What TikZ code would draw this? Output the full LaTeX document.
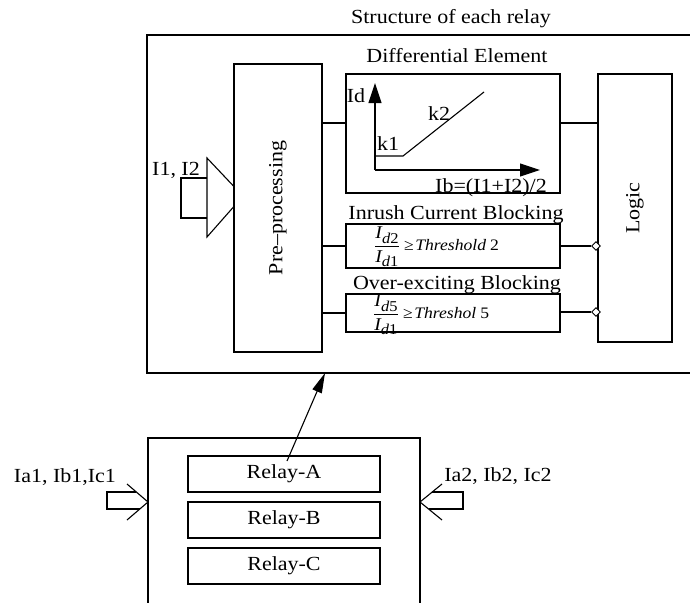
\documentclass[tikz,border=0pt]{standalone}
\usepackage{fontspec}
\setmainfont{Liberation Serif}[FakeStretch=1.1]
\usetikzlibrary{arrows.meta,shapes.geometric}

\newcommand{\subsz}[1]{\mbox{\fontsize{15}{15}\selectfont\itshape d\upshape#1}}
\newcommand{\ratio}[2]{{\fontsize{18}{20}\selectfont$\displaystyle\frac{\mbox{\itshape I}_{\subsz{#1}}}{\mbox{\itshape I}_{\subsz{#2}}}$}}
\newcommand{\crit}[2]{{\fontsize{16}{19}\selectfont ≥\hspace{1.5pt}\itshape #1\upshape\hspace{4pt}#2}}

\tikzset{
  ln/.style={line width=1.1pt, line join=miter},
  blk/.style={draw, ln, inner sep=0pt, fill=white},
  lbl/.style={inner sep=0pt, font=\fontsize{20}{24}\selectfont},
  eq/.style={inner sep=0pt, anchor=west},
  tip/.style={-{Triangle[length=20pt,width=13pt]}},
  port/.style={diamond, draw, line width=0.9pt, fill=white, inner sep=0pt,
    minimum width=9pt, minimum height=9pt},
}

\begin{document}
\begin{tikzpicture}[x=1pt, y=-1pt]
\clip (0,0) rectangle (690,602);
\fill[white] (0,0) rectangle (690,602);

% ---- per-relay structure ----
\node[lbl, anchor=base] (ttl) at (451,24) {Structure of each relay};
\draw[ln] (147,35) rectangle (720,373);
\coordinate (outbot) at (325,373);

\node[blk, minimum width=88pt, minimum height=288pt] (pre) at (278,208) {};
\node[lbl, rotate=90] at (pre.center) {Pre--processing};

\node[blk, minimum width=214pt, minimum height=119pt] (diff) at (453,133.5) {};
\node[lbl, anchor=base] (difft) at (457,63) {Differential Element};

\node[blk, minimum width=214pt, minimum height=44pt] (inr) at (453,246) {};
\node[lbl, anchor=base] (inrt) at (456,219) {Inrush Current Blocking};

\node[blk, minimum width=214pt, minimum height=38pt] (ovr) at (453,313) {};
\node[lbl, anchor=base] (ovrt) at (457,289) {Over-exciting Blocking};

\node[blk, minimum width=74pt, minimum height=268pt] (logic) at (635,208) {};
\node[lbl, rotate=90] at (logic.center) {Logic};

% characteristic of the differential element
\coordinate (org) at (375,170);
\coordinate (ytop) at (375,83);
\coordinate (xend) at (540,170);
\coordinate (kn0) at (375,156);
\coordinate (kn1) at (403,156);
\coordinate (kn2) at (484,92);
\draw[ln, tip] (org) -- (ytop);
\draw[ln, tip] (org) -- (xend);
\draw[ln] (kn0) -- (kn1) -- (kn2);
\node[lbl, anchor=base] (idl) at (356,102) {Id};
\node[lbl, anchor=base] (k1l) at (388,150) {k1};
\node[lbl, anchor=base] (k2l) at (439,120) {k2};
\node[lbl, anchor=base] (ibl) at (491,192) {Ib=(I1+I2)/2};

% blocking criteria
\node[eq] (eq1) at (374,247) {\ratio{2}{1}\hspace{4pt}\crit{Threshold}{2}};
\node[eq] (eq2) at (373,315) {\ratio{5}{1}\hspace{4pt}\crit{Threshol}{5}};

% internal connections
\draw[ln] (pre.east |- 0,123) -- (diff.west |- 0,123);
\draw[ln] (pre.east |- inr.west) -- (inr.west);
\draw[ln] (pre.east |- ovr.west) -- (ovr.west);
\draw[ln] (diff.east |- 0,123) -- (logic.west |- 0,123);
\node[port] (p1) at (596,246) {};
\node[port] (p2) at (596,312) {};
\draw[ln] (inr.east) -- (p1.west);
\draw[ln] (ovr.east |- p2.west) -- (p2.west);

% input I1, I2
\node[lbl, anchor=base] (i12) at (176,175) {I1, I2};
\draw[ln] (207,178) -- (181,178) -- (181,218) -- (207,218);
\draw[ln] (pre.west |- 0,186) -- (207,158) -- (207,237) -- (pre.west |- 0,207);

% ---- relay group ----
\draw[ln] (148,640) -- (148,438) -- (420,438) -- (420,640);
\node[blk, minimum width=192pt, minimum height=36pt] (ra) at (284,474) {};
\node[lbl] at (ra.center) {Relay-A};
\node[blk, minimum width=192pt, minimum height=36pt] (rb) at (284,520) {};
\node[lbl] at (rb.center) {Relay-B};
\node[blk, minimum width=192pt, minimum height=36pt] (rc) at (284,566) {};
\node[lbl] at (rc.center) {Relay-C};

\coordinate (src) at (287,461);
\draw[ln, -{Triangle[length=20pt,width=10pt]}] (src) -- (outbot);

% side inputs
\node[lbl, anchor=base] (inl) at (65,482) {Ia1, Ib1,Ic1};
\coordinate (ltip) at (148,502);
\draw[ln] (127,484) -- (ltip) -- (127,520);
\draw[ln] (136.3,492) -- (107,492) -- (107,509) -- (139.8,509);

\node[lbl, anchor=base] (inr2) at (498,481) {Ia2, Ib2, Ic2};
\coordinate (rtip) at (420,502);
\draw[ln] (442,484) -- (rtip) -- (442,520);
\draw[ln] (432.2,492) -- (463,492) -- (463,509) -- (428.6,509);
\end{tikzpicture}
\end{document}
